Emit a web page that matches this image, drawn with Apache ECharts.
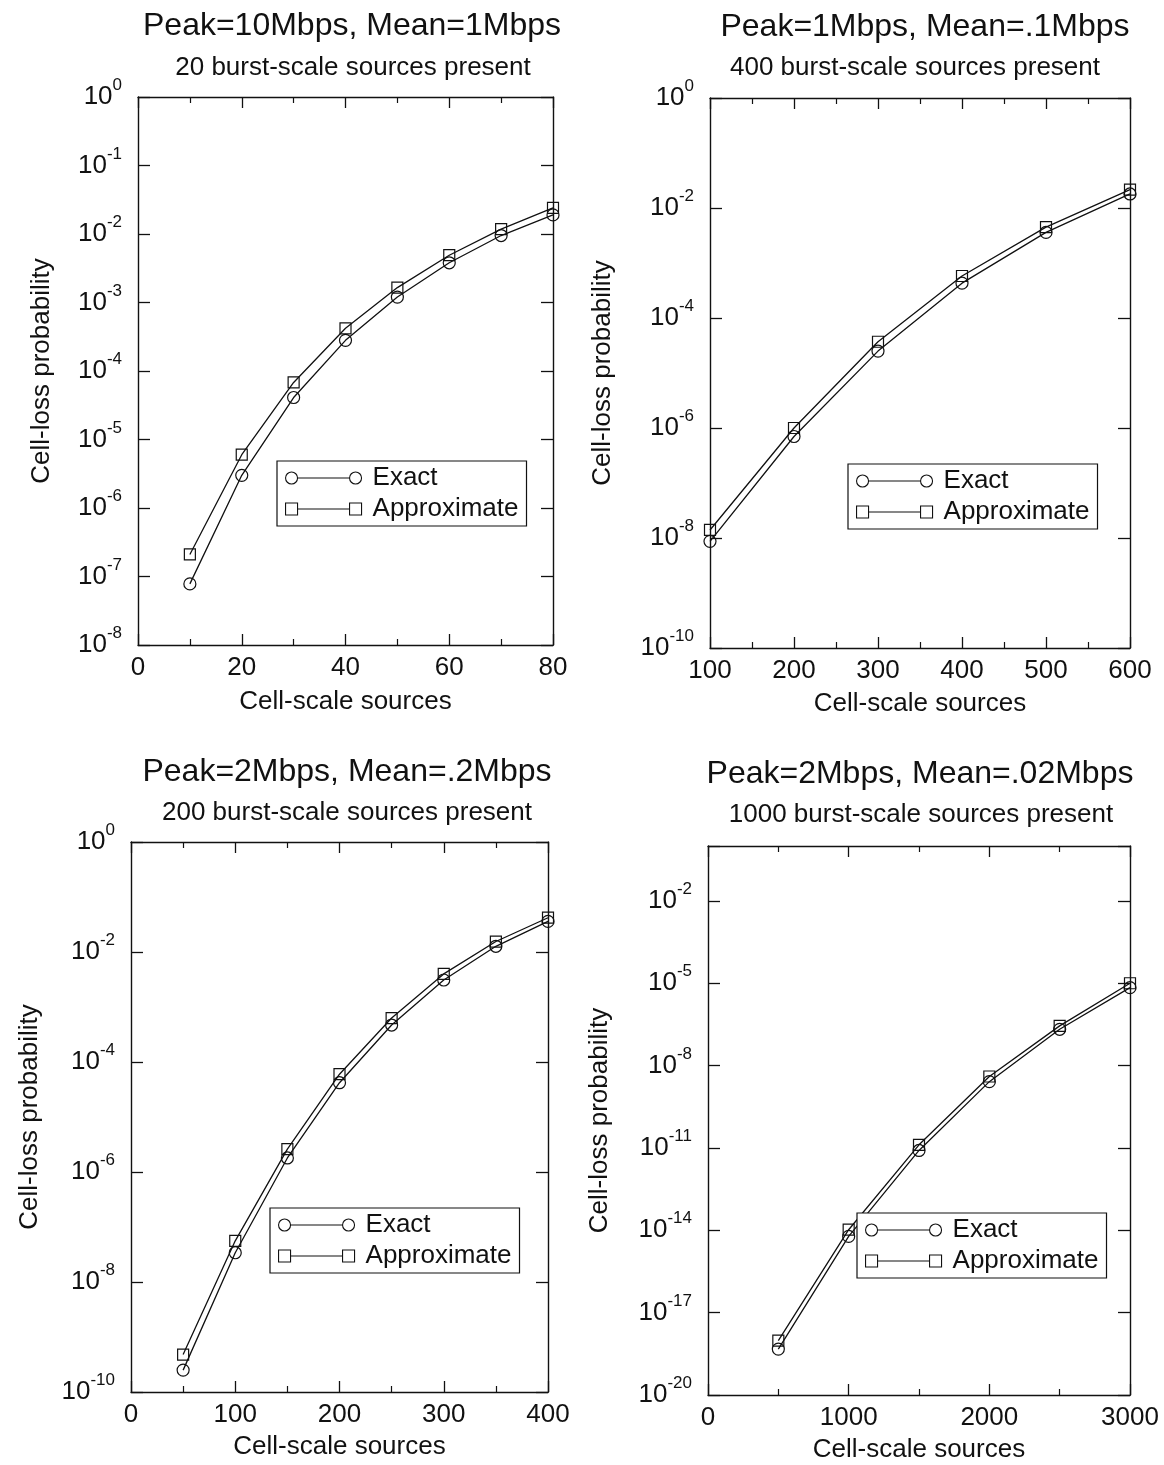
<!DOCTYPE html>
<html>
<head>
<meta charset="utf-8">
<title>Cell-loss probability</title>
<script src="https://cdn.jsdelivr.net/npm/echarts@6/dist/echarts.min.js"></script>
<style>
  html, body { margin: 0; padding: 0; background: #fff; }
  #chart { width: 1164px; height: 1465px; }
</style>
</head>
<body>
<div id="chart"></div>
<script>
// values (x = cell-scale sources, y = cell-loss probability)
const xTL = [10, 20, 30, 40, 50, 60, 70, 80];
const exactTL = [7.8e-8, 3.0e-6, 4.1e-5, 2.8e-4, 1.2e-3, 3.8e-3, 9.5e-3, 1.9e-2];
const approxTL = [2.1e-7, 6.0e-6, 6.8e-5, 4.2e-4, 1.65e-3, 4.9e-3, 1.18e-2, 2.4e-2];

const xTR = [100, 200, 300, 400, 500, 600];
const exactTR = [8.7e-9, 7.0e-7, 2.5e-5, 4.3e-4, 3.6e-3, 1.8e-2];
const approxTR = [1.4e-8, 1.0e-6, 3.7e-5, 5.8e-4, 4.5e-3, 2.15e-2];

const xBL = [50, 100, 150, 200, 250, 300, 350, 400];
const exactBL = [2.5e-10, 3.4e-8, 1.8e-6, 4.2e-5, 4.7e-4, 3.1e-3, 1.27e-2, 3.6e-2];
const approxBL = [4.8e-10, 5.6e-8, 2.6e-6, 6.0e-5, 6.3e-4, 4.0e-3, 1.55e-2, 4.2e-2];

const xBR = [500, 1000, 1500, 2000, 2500, 3000];
const exactBR = [4.7e-19, 6.0e-15, 8.1e-12, 2.6e-9, 2.1e-7, 6.9e-6];
const approxBR = [9.6e-19, 1.05e-14, 1.3e-11, 4.0e-9, 2.8e-7, 1.0e-5];

const titles = ['Peak=10Mbps, Mean=1Mbps', 'Peak=1Mbps, Mean=.1Mbps', 'Peak=2Mbps, Mean=.2Mbps', 'Peak=2Mbps, Mean=.02Mbps'];
const subtitles = ['20 burst-scale sources present', '400 burst-scale sources present', '200 burst-scale sources present', '1000 burst-scale sources present'];

const FONT = "'Liberation Sans', Arial, Helvetica, sans-serif";
const INK = '#111';

// legend glyphs: marker - line - marker
const ICON_CIRCLE = 'path://M0 6 A6 6 0 1 1 12 6 A6 6 0 1 1 0 6 Z M12 6 L64 6 M64 6 A6 6 0 1 1 76 6 A6 6 0 1 1 64 6 Z';
const ICON_SQUARE = 'path://M0 0 L12 0 L12 12 L0 12 Z M12 6 L64 6 M64 0 L76 0 L76 12 L64 12 Z';

const panels = [
  { x: xTL, exact: exactTL, approx: approxTL,
    grid: { left: 138, top: 97, width: 415, height: 548 },
    xr: [0, 80, 20], yr: [-8, 0, 1], yGap: 83, xGap: 44,
    legend: { left: 277, top: 461 }, tt: [352, 10], st: [353, 55] },
  { x: xTR, exact: exactTR, approx: approxTR,
    grid: { left: 710, top: 98, width: 420, height: 550 },
    xr: [100, 600, 100], yr: [-10, 0, 2], yGap: 94, xGap: 43,
    legend: { left: 848, top: 464 }, tt: [925, 11], st: [915, 55] },
  { x: xBL, exact: exactBL, approx: approxBL,
    grid: { left: 131, top: 842, width: 417, height: 550 },
    xr: [0, 400, 100], yr: [-10, 0, 2], yGap: 88, xGap: 42,
    legend: { left: 270, top: 1208 }, tt: [347, 756], st: [347, 800] },
  { x: xBR, exact: exactBR, approx: approxBR,
    grid: { left: 708, top: 846, width: 422, height: 549 },
    xr: [0, 3000, 1000], yr: [-20, 0, 3], yGap: 95, xGap: 42,
    legend: { left: 857, top: 1213 }, tt: [920, 758], st: [921, 802] }
];

const lineAxis = { show: true, onZero: false, lineStyle: { color: INK, width: 1.4 } };

const option = {
  backgroundColor: '#fff',
  animation: false,
  textStyle: { fontFamily: FONT, color: INK },
  title: [],
  legend: [],
  grid: [],
  xAxis: [],
  yAxis: [],
  series: []
};

panels.forEach((p, i) => {
  option.title.push({
    text: titles[i], left: p.tt[0], top: p.tt[1], textAlign: 'center', padding: 0,
    textStyle: { fontSize: 32, fontWeight: 'normal', color: INK, fontFamily: FONT }
  });
  option.title.push({
    text: subtitles[i], left: p.st[0], top: p.st[1], textAlign: 'center', padding: 0,
    textStyle: { fontSize: 26, fontWeight: 'normal', color: INK, fontFamily: FONT }
  });

  option.grid.push(Object.assign({ outerBoundsMode: 'none', containLabel: false }, p.grid));

  const xBase = {
    gridIndex: i, type: 'value', min: p.xr[0], max: p.xr[1], interval: p.xr[2],
    axisLine: lineAxis, splitLine: { show: false },
    axisTick: { show: true, inside: true, length: 11, lineStyle: { color: INK, width: 1.3 } },
    minorTick: { show: true, splitNumber: 2, length: 6, lineStyle: { color: INK, width: 1.2 } }
  };
  option.xAxis.push(Object.assign({}, xBase, {
    position: 'bottom',
    name: 'Cell-scale sources', nameLocation: 'middle', nameGap: p.xGap,
    nameTextStyle: { fontSize: 26, color: INK, fontFamily: FONT },
    axisLabel: { fontSize: 26, color: INK, fontFamily: FONT, margin: 10, formatter: v => String(v) }
  }));
  option.xAxis.push(Object.assign({}, xBase, { position: 'top', axisLabel: { show: false } }));

  const yBase = {
    gridIndex: i, type: 'value', min: p.yr[0], max: p.yr[1], interval: p.yr[2],
    axisLine: lineAxis, splitLine: { show: false },
    axisTick: { show: true, inside: true, length: 12, lineStyle: { color: INK, width: 1.3 } }
  };
  option.yAxis.push(Object.assign({}, yBase, {
    position: 'left',
    name: 'Cell-loss probability', nameLocation: 'middle', nameGap: p.yGap, nameRotate: 90,
    nameTextStyle: { fontSize: 26, color: INK, fontFamily: FONT },
    axisLabel: {
      margin: 16,
      formatter: v => (Math.abs((v - p.yr[0]) % p.yr[2]) < 1e-9 ? '{b|10}{e|' + Math.round(v) + '}' : ''),
      rich: {
        b: { fontSize: 26, lineHeight: 40, verticalAlign: 'middle', color: INK, fontFamily: FONT },
        e: { fontSize: 17, lineHeight: 17, verticalAlign: 'top', color: INK, fontFamily: FONT }
      }
    }
  }));
  option.yAxis.push(Object.assign({}, yBase, { position: 'right', axisLabel: { show: false } }));

  const mark = { color: 'transparent', borderColor: INK, borderWidth: 1.2 };
  option.series.push({
    name: 'Exact', type: 'line', xAxisIndex: 2 * i, yAxisIndex: 2 * i,
    symbol: 'circle', symbolSize: 12, itemStyle: mark,
    lineStyle: { color: INK, width: 1.3 },
    data: p.x.map((x, k) => [x, Math.log10(p.exact[k])])
  });
  option.series.push({
    name: 'Approximate', type: 'line', xAxisIndex: 2 * i, yAxisIndex: 2 * i,
    symbol: 'rect', symbolSize: 11, itemStyle: mark,
    lineStyle: { color: INK, width: 1.3 },
    data: p.x.map((x, k) => [x, Math.log10(p.approx[k])])
  });

  option.legend.push({
    orient: 'vertical', left: p.legend.left, top: p.legend.top,
    padding: [4, 8, 4, 8], itemGap: 5, itemWidth: 76, itemHeight: 12,
    backgroundColor: '#fff', borderColor: INK, borderWidth: 1.2,
    selectedMode: false,
    itemStyle: { color: 'transparent', borderColor: INK, borderWidth: 1.1 },
    textStyle: { fontSize: 26, color: INK, fontFamily: FONT, padding: [0, 0, 0, 6] },
    data: [{ name: 'Exact', icon: ICON_CIRCLE }, { name: 'Approximate', icon: ICON_SQUARE }]
  });
});

const myChart = echarts.init(document.getElementById('chart'), null, { renderer: 'canvas' });
myChart.setOption(option);
</script>
</body>
</html>
